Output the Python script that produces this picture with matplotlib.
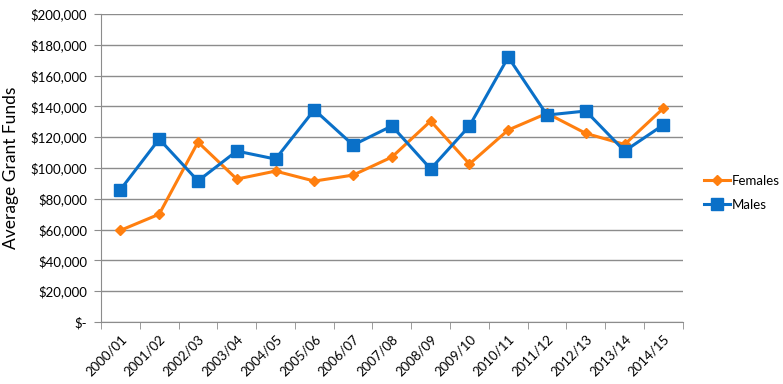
import numpy as np
import matplotlib
matplotlib.use("Agg")
import matplotlib.pyplot as plt
from matplotlib.ticker import FuncFormatter, MultipleLocator

years = ["2000/01", "2001/02", "2002/03", "2003/04", "2004/05", "2005/06",
         "2006/07", "2007/08", "2008/09", "2009/10", "2010/11", "2011/12",
         "2012/13", "2013/14", "2014/15"]
females = [59500, 70000, 116800, 92800, 98000, 91500, 95400, 107100, 130500,
           102600, 124700, 135500, 122500, 115300, 138800]
males = [85900, 118800, 91600, 111000, 105800, 137800, 114900, 127300, 99400,
         127300, 172000, 134400, 137000, 111000, 128000]

plt.rcParams['font.family'] = ['Lato', 'DejaVu Sans']

fig = plt.figure(figsize=(7.83, 3.84), dpi=100)
ax = fig.add_axes([0.129, 0.1615, 0.743, 0.802])

x = np.arange(len(years))
ax.plot(x, females, color='#FF7F0F', lw=2.2, marker='D', ms=5.5, label='Females')
ax.plot(x, males, color='#0A70C8', lw=2.2, marker='s', ms=8, label='Males')

ax.set_xlim(-0.5, len(years) - 0.5)
ax.set_ylim(0, 200000)
ax.yaxis.set_major_locator(MultipleLocator(20000))
ax.yaxis.set_major_formatter(FuncFormatter(lambda v, p: "$-" if v == 0 else f"${v:,.0f}"))
ax.grid(axis='y', color='#8C8C8C', lw=1)
ax.set_axisbelow(True)

ax.set_xticks(x)
ax.set_xticklabels(years, rotation=45, ha='right', rotation_mode='anchor', fontsize=9.5)
ax.tick_params(axis='x', length=0, pad=8)
ax.set_xticks(np.arange(-0.5, len(years)), minor=True)
ax.tick_params(axis='x', which='minor', length=5, color='#8C8C8C')
ax.tick_params(axis='y', length=5, color='#8C8C8C', labelsize=9.5, pad=5)

for s in ['top', 'right']:
    ax.spines[s].set_visible(False)
for s in ['left', 'bottom']:
    ax.spines[s].set_color('#8C8C8C')

ax.set_ylabel('Average Grant Funds', fontsize=12.5, labelpad=8)

ax.legend(loc='center left', bbox_to_anchor=(1.02, 0.42), frameon=False,
          fontsize=9.5, handlelength=2.0, handletextpad=0.1, labelspacing=0.9,
          borderpad=0.2)

fig.savefig('out.png', dpi=100)
